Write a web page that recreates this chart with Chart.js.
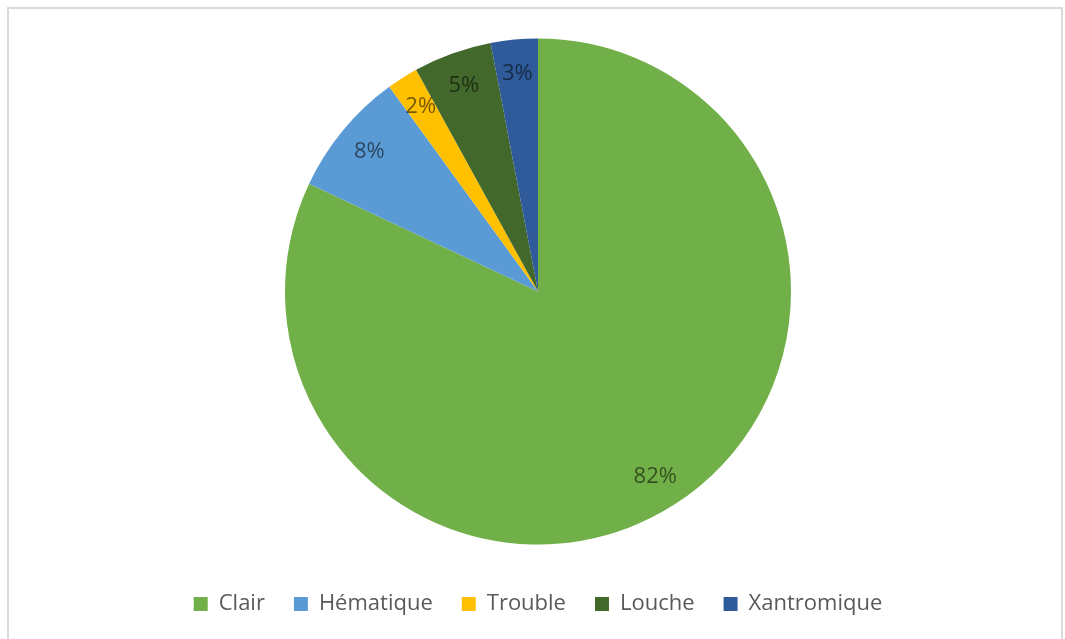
<!DOCTYPE html>
<html>
<head>
<meta charset="utf-8">
<script src="https://cdn.jsdelivr.net/npm/chart.js@4"></script>
<style>
  html, body { margin: 0; padding: 0; background: #fff; overflow: hidden; }
  #wrap { position: relative; width: 1065px; height: 639px; }
  #frame { position: absolute; left: 7px; top: 7px; right: 2px; bottom: -10px; border: 2px solid #dadada; }
  canvas { position: absolute; left: 0; top: 0; }
</style>
</head>
<body>
<div id="wrap">
  <div id="frame"></div>
  <canvas id="pieChart" width="1065" height="639"></canvas>
</div>
<script>
const categories = ["Clair", "Hématique", "Trouble", "Louche", "Xantromique"];
const percents = [82, 8, 2, 5, 3];
const colors = ["#71B048", "#5B9BD5", "#FFC000", "#43682B", "#2F5B9A"];

// percentage labels placed near the rim of each slice
const sliceLabels = {
  id: "sliceLabels",
  afterDatasetsDraw(chart) {
    const ctx = chart.ctx;
    const arcs = chart.getDatasetMeta(0).data;
    ctx.save();
    ctx.font = "22px 'Open Sans'";
    ctx.fillStyle = "rgba(0,0,0,0.55)";
    ctx.textAlign = "center";
    ctx.textBaseline = "middle";
    arcs.forEach((arc, i) => {
      const p = arc.getProps(["x", "y", "startAngle", "endAngle", "outerRadius"], true);
      const mid = (p.startAngle + p.endAngle) / 2;
      const r = p.outerRadius * 0.865;
      ctx.fillText(percents[i] + "%", p.x + Math.cos(mid) * r, p.y + Math.sin(mid) * r);
    });
    ctx.restore();
  }
};

const ctx = document.getElementById("pieChart").getContext("2d");
const chart = new Chart(ctx, {
  type: "pie",
  data: {
    labels: categories,
    datasets: [{
      data: percents,
      backgroundColor: colors,
      borderWidth: 0,
      radius: 253
    }]
  },
  options: {
    responsive: false,
    animation: false,
    layout: { padding: { top: 19, bottom: 14, left: 11, right: 0 } },
    plugins: {
      tooltip: { enabled: false },
      legend: {
        position: "bottom",
        labels: {
          boxWidth: 14,
          boxHeight: 14,
          padding: 29,
          color: "#595959",
          font: { family: "'Open Sans'", size: 22 }
        }
      }
    }
  },
  plugins: [sliceLabels]
});
</script>
</body>
</html>
